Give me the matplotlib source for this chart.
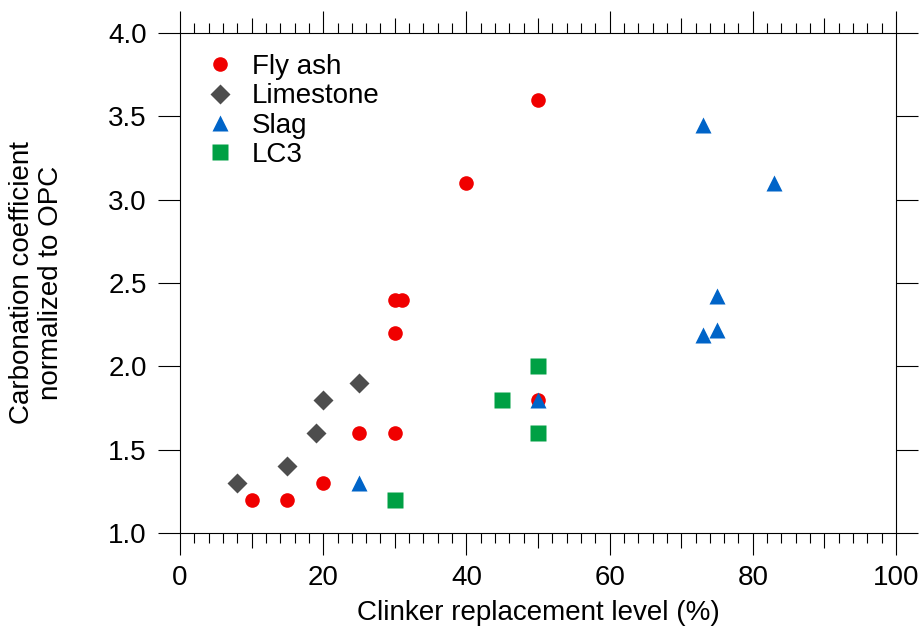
import numpy as np
import matplotlib
matplotlib.use('Agg')
import matplotlib.pyplot as plt
from matplotlib.ticker import MultipleLocator, FixedLocator, FormatStrFormatter

plt.rcParams['font.family'] = ['Liberation Sans', 'DejaVu Sans']
plt.rcParams['font.size'] = 20

# data
fly_x = [10, 15, 20, 25, 30, 30, 30, 31, 40, 50, 50]
fly_y = [1.2, 1.2, 1.3, 1.6, 1.6, 2.2, 2.4, 2.4, 3.1, 3.6, 1.8]

lime_x = [8, 15, 19, 20, 25]
lime_y = [1.3, 1.4, 1.6, 1.8, 1.9]

slag_x = [25, 50, 73, 83, 75, 73, 75]
slag_y = [1.3, 1.8, 3.45, 3.1, 2.42, 2.19, 2.22]

lc3_x = [30, 45, 50, 50]
lc3_y = [1.2, 1.8, 2.0, 1.6]

fig = plt.figure(figsize=(9.21, 6.43), dpi=100)
ax = fig.add_axes([180/921, 1-533/643, 716/921, 500/643])

ax.plot(fly_x, fly_y, 'o', color='#f00000', ms=10.5, mec='none', label='Fly ash')
ax.plot(lime_x, lime_y, 'D', color='#4d4d4d', ms=10, mec='none', label='Limestone')
ax.plot(slag_x, slag_y, '^', color='#0064c8', ms=12, mec='none', label='Slag')
ax.plot(lc3_x, lc3_y, 's', color='#00a044', ms=11, mec='none', label='LC3')

ax.set_xlim(0, 100)
ax.set_ylim(1.0, 4.0)

# x ticks: labelled every 20, medium every 10, small every 2
ax.xaxis.set_major_locator(MultipleLocator(20))
small = [v for v in range(0, 101, 2) if v % 10 != 0]
ax.xaxis.set_minor_locator(FixedLocator(small))
ax.yaxis.set_major_locator(MultipleLocator(0.5))
ax.yaxis.set_minor_locator(FixedLocator([]))
ax.yaxis.set_major_formatter(FormatStrFormatter('%.1f'))

ax.tick_params(which='both', direction='out', top=True, right=True, width=0.8, color='black')
ax.tick_params(axis='x', which='major', length=16, pad=7)
ax.tick_params(axis='x', which='minor', length=7)
ax.tick_params(axis='y', which='major', length=16, pad=8)

for side in ['bottom', 'top']:
    sec = ax.secondary_xaxis(side)
    sec.set_xticks([10, 30, 50, 70, 90])
    sec.tick_params(direction='out', length=11, width=0.8, labelbottom=False, labeltop=False)
    sec.spines[side].set_visible(False)

for s in ax.spines.values():
    s.set_linewidth(0.8)

ax.set_xlabel('Clinker replacement level (%)')
ax.set_ylabel('Carbonation coefficient\nnormalized to OPC', linespacing=1.15)
ax.xaxis.set_label_coords(0.5, -0.135)
ax.yaxis.set_label_coords(-0.162, 0.5)

ax.legend(loc='upper left', bbox_to_anchor=(0.0405, 0.958), frameon=False,
          handlelength=0.8, handletextpad=0.75, borderpad=0, borderaxespad=0,
          labelspacing=0.12, numpoints=1)

fig.savefig('out.png', dpi=100)
